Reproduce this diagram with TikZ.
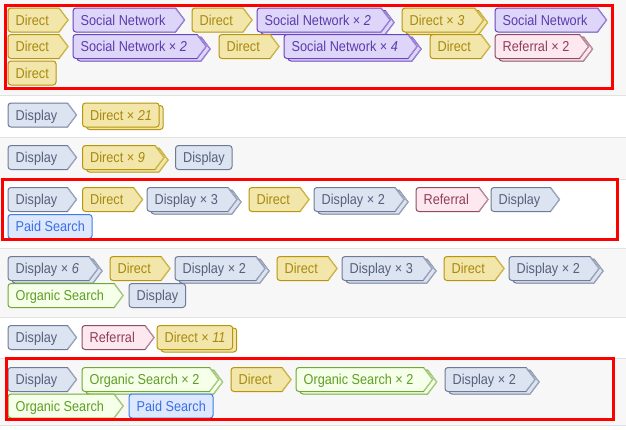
\documentclass[tikz,border=0pt]{standalone}
\usepackage{fontspec}
\usepackage{graphicx}
\setmainfont{Liberation Sans}
\usetikzlibrary{calc}
\pgfdeclarelayer{bg}
\pgfsetlayers{bg,main}
% categories: F fill, B border, T text
\definecolor{dirF}{HTML}{F2E6AA}\definecolor{dirB}{HTML}{B8960B}\definecolor{dirT}{HTML}{A8890F}
\definecolor{socF}{HTML}{DDD6F8}\definecolor{socB}{HTML}{6A44BE}\definecolor{socT}{HTML}{5C3AAE}
\definecolor{disF}{HTML}{DCE3F1}\definecolor{disB}{HTML}{6E7B96}\definecolor{disT}{HTML}{56617C}
\definecolor{refF}{HTML}{FDE8EF}\definecolor{refB}{HTML}{8C4C64}\definecolor{refT}{HTML}{8E3E5C}
\definecolor{orgF}{HTML}{F6FFEA}\definecolor{orgB}{HTML}{6FA832}\definecolor{orgT}{HTML}{5E9E24}
\definecolor{paiF}{HTML}{DDE8FF}\definecolor{paiB}{HTML}{3D7BE8}\definecolor{paiT}{HTML}{3A6EE6}
\colorlet{dirL}{dirB!55!dirF}\colorlet{socL}{socB!55!socF}\colorlet{disL}{disB!55!disF}
\colorlet{refL}{refB!55!refF}\colorlet{orgL}{orgB!55!orgF}\colorlet{paiL}{paiB!55!paiF}
\definecolor{bandgray}{HTML}{F7F7F7}
\definecolor{sepgray}{HTML}{E2E2E2}
\definecolor{hilite}{HTML}{FF0000}
\tikzset{
  tagtext/.style={inner sep=0pt,anchor=west,text height=10pt,text depth=0pt,
    font=\fontsize{12.7pt}{15pt}\selectfont},
  tagline/.style={line width=1pt,line join=miter},
  sepline/.style={draw=sepgray,line width=1pt},
  redbox/.style={draw=hilite,line width=3pt}
}
\newcommand\tall[1]{\scalebox{1}[1.13]{#1}}
\newcommand\arrowbody[3]{%
  \draw[tagline,fill=#3F,draw=#3B] ([shift={(10pt,12pt)}]#2) -- ([xshift=19pt]#2) -- ([shift={(10pt,-12pt)}]#2)
    -- ([shift={(-4.5pt,-12pt)}]#1) arc[start angle=270,end angle=180,radius=3pt]
    -- ([shift={(-7.5pt,9pt)}]#1) arc[start angle=180,end angle=90,radius=3pt] -- cycle;
  \draw[tagline,draw=#3L] ([shift={(10pt,11.5pt)}]#2) -- ([xshift=19pt]#2) -- ([shift={(10pt,-11.5pt)}]#2);}
\newcommand\boxbody[3]{%
  \draw[tagline,fill=#3F,draw=#3B,rounded corners=3pt] ([shift={(-7.5pt,12pt)}]#1) rectangle ([shift={(7pt,-12pt)}]#2);}
% arrow tag
\newcommand\TA[5]{%
  \node[tagtext,text=#2T] (#1) at (#3+7.5,#4) {\tall{#5}};
  \begin{pgfonlayer}{bg}\arrowbody{#1.west}{#1.east}{#2}\end{pgfonlayer}}
% arrow tag, stacked
\newcommand\TAS[5]{%
  \node[tagtext,text=#2T] (#1) at (#3+7.5,#4) {\tall{#5}};
  \coordinate (#1sw) at ([shift={(4pt,-2.5pt)}]#1.west);
  \coordinate (#1se) at ([shift={(4pt,-2.5pt)}]#1.east);
  \begin{pgfonlayer}{bg}\arrowbody{#1sw}{#1se}{#2}\arrowbody{#1.west}{#1.east}{#2}\end{pgfonlayer}}
% end tag
\newcommand\TN[5]{%
  \node[tagtext,text=#2T] (#1) at (#3+7.5,#4) {\tall{#5}};
  \begin{pgfonlayer}{bg}\boxbody{#1.west}{#1.east}{#2}\end{pgfonlayer}}
% end tag, stacked
\newcommand\TNS[5]{%
  \node[tagtext,text=#2T] (#1) at (#3+7.5,#4) {\tall{#5}};
  \coordinate (#1sw) at ([shift={(4pt,-2.5pt)}]#1.west);
  \coordinate (#1se) at ([shift={(4pt,-2.5pt)}]#1.east);
  \begin{pgfonlayer}{bg}\boxbody{#1sw}{#1se}{#2}\boxbody{#1.west}{#1.east}{#2}\end{pgfonlayer}}
\begin{document}
\begin{tikzpicture}[x=1pt,y=-1pt]
\useasboundingbox (0,0) rectangle (626,429);
\begin{pgfonlayer}{bg}
\fill[white] (0,0) rectangle (626,429);
\fill[bandgray] (0,0) rectangle (626,95);
\fill[bandgray] (0,137) rectangle (626,179);
\fill[bandgray] (0,248) rectangle (626,317);
\fill[bandgray] (0,358) rectangle (626,425);
\foreach \yy in {95,137,179,248,317,358,425} \draw[sepline] (0,\yy) -- (626,\yy);
\end{pgfonlayer}
% band 1
\TA{t1}{dir}{8}{20}{Direct}
\TA{t2}{soc}{73}{20}{Social Network}
\TA{t3}{dir}{192}{20}{Direct}
\TAS{t4}{soc}{257}{20}{Social Network × \textit{2}}
\TAS{t5}{dir}{402}{20}{Direct × \textit{3}}
\TA{t6}{soc}{495}{20}{Social Network}
\TA{t7}{dir}{8}{46.5}{Direct}
\TAS{t8}{soc}{73}{46.5}{Social Network × \textit{2}}
\TA{t9}{dir}{219}{46.5}{Direct}
\TAS{t10}{soc}{284}{46.5}{Social Network × \textit{4}}
\TA{t11}{dir}{430}{46.5}{Direct}
\TAS{t12}{ref}{495}{46.5}{Referral × 2}
\TN{t13}{dir}{8}{73}{Direct}
% band 2
\TA{t14}{dis}{8}{115}{Display}
\TNS{t15}{dir}{82.5}{115}{Direct × \textit{21}}
% band 3
\TA{t16}{dis}{8}{157.5}{Display}
\TAS{t17}{dir}{82.5}{157.5}{Direct × \textit{9}}
\TN{t18}{dis}{175.5}{157.5}{Display}
% band 4
\TA{t19}{dis}{8}{199.5}{Display}
\TA{t20}{dir}{82.5}{199.5}{Direct}
\TAS{t21}{dis}{147}{199.5}{Display × 3}
\TA{t22}{dir}{249}{199.5}{Direct}
\TAS{t23}{dis}{314}{199.5}{Display × 2}
\TA{t24}{ref}{416}{199.5}{Referral}
\TA{t25}{dis}{491}{199.5}{Display}
\TN{t26}{pai}{8}{226.5}{Paid Search}
% band 5
\TAS{t27}{dis}{8}{268.5}{Display × \textit{6}}
\TA{t28}{dir}{110}{268.5}{Direct}
\TAS{t29}{dis}{175}{268.5}{Display × 2}
\TA{t30}{dir}{277}{268.5}{Direct}
\TAS{t31}{dis}{342}{268.5}{Display × 3}
\TA{t32}{dir}{444}{268.5}{Direct}
\TAS{t33}{dis}{509}{268.5}{Display × 2}
\TA{t34}{org}{8}{295.5}{Organic Search}
\TN{t35}{dis}{129}{295.5}{Display}
% band 6
\TA{t36}{dis}{8}{337.5}{Display}
\TA{t37}{ref}{82}{337.5}{Referral}
\TNS{t38}{dir}{157}{337.5}{Direct × \textit{11}}
% band 7
\TA{t39}{dis}{8}{379.5}{Display}
\TAS{t40}{org}{82}{379.5}{Organic Search × 2}
\TA{t41}{dir}{231}{379.5}{Direct}
\TAS{t42}{org}{296}{379.5}{Organic Search × 2}
\TAS{t43}{dis}{445}{379.5}{Display × 2}
\TA{t44}{org}{8}{406}{Organic Search}
\TN{t45}{pai}{129}{406}{Paid Search}
% highlight boxes
\draw[redbox] (5.5,5) rectangle (612.3,88.5);
\draw[redbox] (2.5,179) rectangle (617.7,239);
\draw[redbox] (6.5,358.7) rectangle (613.3,419.2);
\end{tikzpicture}
\end{document}
